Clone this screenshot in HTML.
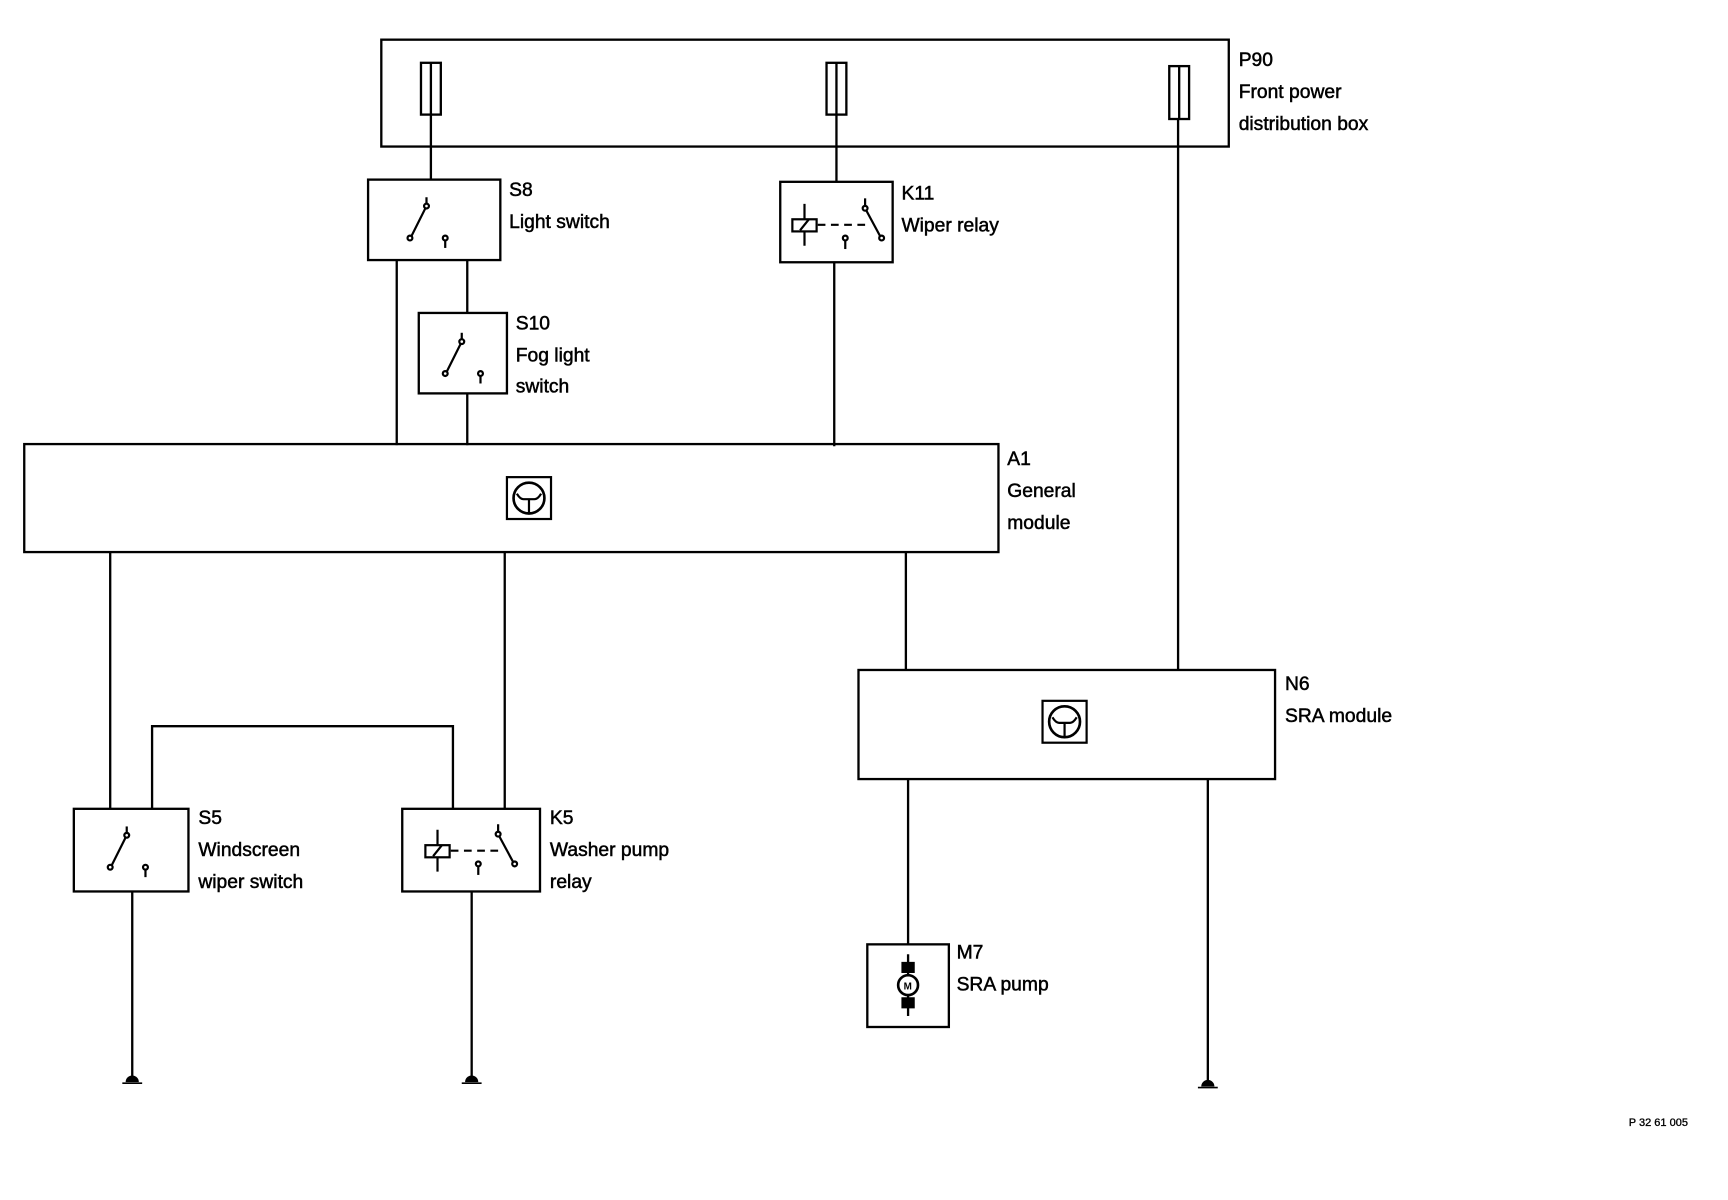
<!DOCTYPE html>
<html><head><meta charset="utf-8"><style>
html,body{margin:0;padding:0;background:#fff;}
svg{display:block}
text{font-family:"Liberation Sans",sans-serif;font-size:17.5px;fill:#000;stroke:#000;stroke-width:0.45;}
</style></head><body>
<svg width="1728" height="1200" viewBox="0 0 1568 1089" preserveAspectRatio="none" xmlns="http://www.w3.org/2000/svg">
<defs>
<g id="sw" fill="none" stroke="#000" stroke-width="2">
<line x1="0" y1="-36" x2="0" y2="-28"/>
<line x1="-14" y1="0" x2="0" y2="-28"/>
<circle cx="-15" cy="1" r="2.2" fill="#fff"/>
<circle cx="0" cy="-28" r="2.2" fill="#fff"/>
<circle cx="17" cy="1" r="2.2" fill="#fff"/>
<line x1="17" y1="3" x2="17" y2="10"/>
</g>
<g id="rl" fill="none" stroke="#000" stroke-width="2">
<line x1="0" y1="-19" x2="0" y2="19"/>
<rect x="-11" y="-5" width="22" height="11" fill="#fff"/>
<line x1="-4" y1="5" x2="4" y2="-5"/>
<line x1="12" y1="0" x2="55" y2="0" stroke-dasharray="7,5"/>
<line x1="55" y1="-24" x2="55" y2="-17"/>
<line x1="55" y1="-15" x2="69" y2="11"/>
<circle cx="55" cy="-15" r="2.2" fill="#fff"/>
<circle cx="70" cy="12" r="2.2" fill="#fff"/>
<circle cx="37" cy="12" r="2.2" fill="#fff"/>
<line x1="37" y1="14" x2="37" y2="22"/>
</g>
<g id="md" fill="none" stroke="#000" stroke-width="2">
<rect x="0" y="0" width="40" height="38"/>
<circle cx="20" cy="19" r="14" stroke-width="2.4"/>
<path d="M9 15 Q12 20 15 20 L25 20 Q28 20 31 15"/>
<line x1="20" y1="20" x2="20" y2="33"/>
</g>
<g id="gd"><path d="M-6 4 A6 6 0 0 1 6 4 Z" fill="#000"/><line x1="-9" y1="5" x2="9" y2="5" stroke="#000" stroke-width="1.5"/></g>
</defs>
<g fill="none" stroke="#000" stroke-width="2.1">
<rect x="346" y="36" width="769" height="97"/>
<rect x="382" y="57" width="18" height="47"/><line x1="391" y1="57" x2="391" y2="104"/>
<rect x="750" y="57" width="18" height="47"/><line x1="759" y1="57" x2="759" y2="104"/>
<rect x="1061" y="60" width="18" height="48"/><line x1="1070" y1="60" x2="1070" y2="108"/>
<line x1="391" y1="104" x2="391" y2="163"/>
<rect x="334" y="163" width="120" height="73"/>
<line x1="360" y1="236" x2="360" y2="404"/>
<line x1="424" y1="236" x2="424" y2="284"/>
<rect x="380" y="284" width="80" height="73"/>
<line x1="424" y1="357" x2="424" y2="404"/>
<line x1="759" y1="104" x2="759" y2="165"/>
<rect x="708" y="165" width="102" height="73"/>
<line x1="757" y1="238" x2="757" y2="405"/>
<rect x="22" y="403" width="884" height="98"/>
<line x1="100" y1="501" x2="100" y2="734"/>
<line x1="458" y1="501" x2="458" y2="734"/>
<line x1="822" y1="501" x2="822" y2="608"/>
<line x1="1069" y1="108" x2="1069" y2="608"/>
<rect x="779" y="608" width="378" height="99"/>
<polyline points="138,734 138,659 411,659 411,734"/>
<rect x="67" y="734" width="104" height="75"/>
<rect x="365" y="734" width="125" height="75"/>
<line x1="120" y1="809" x2="120" y2="980"/>
<line x1="428" y1="809" x2="428" y2="980"/>
<line x1="824" y1="707" x2="824" y2="857"/>
<rect x="787" y="857" width="74" height="75"/>
<line x1="1096" y1="707" x2="1096" y2="983"/>
<line x1="824" y1="866" x2="824" y2="922"/>
<circle cx="824" cy="894" r="9" fill="#fff" stroke-width="2.4"/>
<path d="M819 874 h10 v8 h-10 z M819 906 h10 v8 h-10 z" fill="#000"/>
</g>
<text x="820" y="898" style="font-size:9px;font-weight:bold;stroke-width:0">M</text>
<use href="#sw" x="387" y="215"/>
<use href="#sw" x="419" y="338"/>
<use href="#sw" x="115" y="786"/>
<use href="#rl" x="730" y="204"/>
<use href="#rl" x="397" y="772"/>
<use href="#md" x="460" y="433"/>
<use href="#md" x="946" y="636"/>
<use href="#gd" x="120" y="978"/>
<use href="#gd" x="428" y="978"/>
<use href="#gd" x="1096" y="982"/>
<text x="1124" y="60">P90</text><text x="1124" y="89">Front power</text><text x="1124" y="118">distribution box</text>
<text x="462" y="178">S8</text><text x="462" y="207">Light switch</text>
<text x="818" y="181">K11</text><text x="818" y="210">Wiper relay</text>
<text x="468" y="299">S10</text><text x="468" y="328">Fog light</text><text x="468" y="356">switch</text>
<text x="914" y="422">A1</text><text x="914" y="451">General</text><text x="914" y="480">module</text>
<text x="1166" y="626">N6</text><text x="1166" y="655">SRA module</text>
<text x="180" y="748">S5</text><text x="180" y="777">Windscreen</text><text x="180" y="806">wiper switch</text>
<text x="499" y="748">K5</text><text x="499" y="777">Washer pump</text><text x="499" y="806">relay</text>
<text x="868" y="870">M7</text><text x="868" y="899">SRA pump</text>
<text x="1478" y="1022" style="font-size:10px;stroke-width:0.3">P 32 61 005</text>
</svg>
</body></html>
